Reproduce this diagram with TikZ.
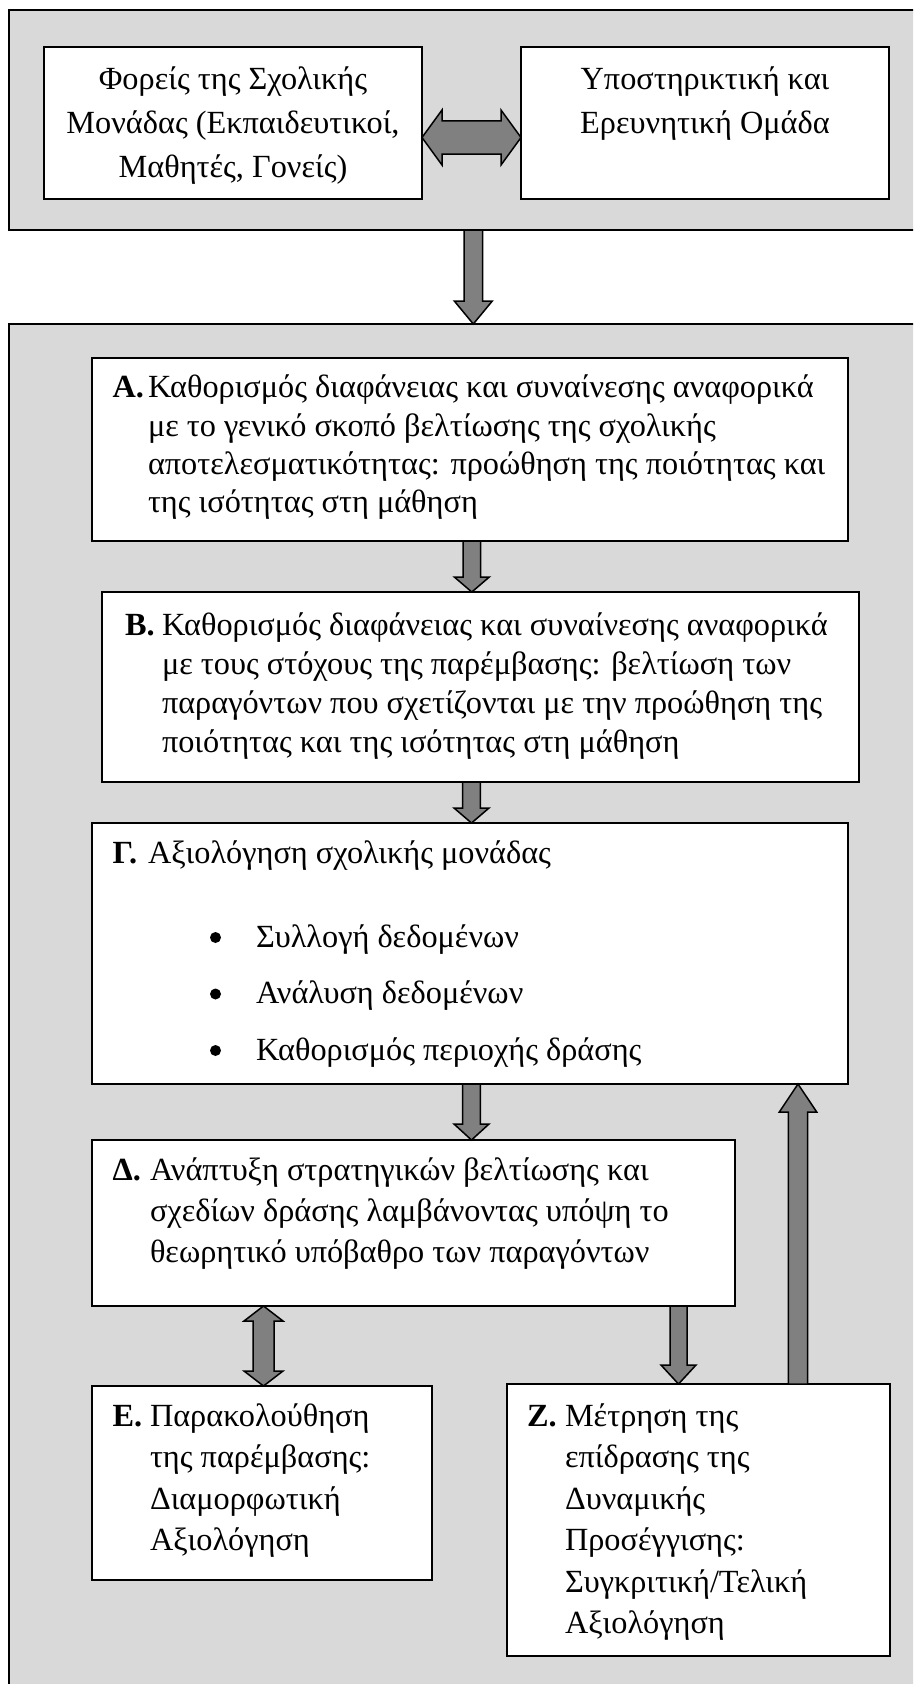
\documentclass[tikz,border=0pt]{standalone}
\usepackage{fontspec}
\setmainfont{Liberation Serif}
\usetikzlibrary{calc}
\definecolor{panel}{HTML}{D9D9D9}
\definecolor{arrowgray}{HTML}{808080}
\tikzset{
  panelbox/.style={draw=black, fill=panel, line width=2pt, rectangle, outer sep=0pt, inner sep=0pt, anchor=north west},
  whitebox/.style={draw=black, fill=white, line width=2pt, rectangle, outer sep=0pt, inner sep=0pt, anchor=north west},
  txt/.style={inner sep=0pt, outer sep=0pt, font=\fontsize{32.3}{38}\selectfont},
  lbl/.style={inner sep=0pt, outer sep=0pt, font=\fontsize{32.3}{38}\selectfont\bfseries},
  barrow/.style={draw=black, fill=arrowgray, line width=1.5pt, line join=miter},
}
% down/up single block arrow: #1 start, #2 tip, #3 shaft half width, #4 head half width, #5 head length
\newcommand\blockdown[5]{\draw[barrow] let \p1=#1, \p2=#2 in
  (\x1-#3,\y1) -- (\x1+#3,\y1) -- (\x1+#3,\y2+#5) -- (\x1+#4,\y2+#5) -- (\x1,\y2)
  -- (\x1-#4,\y2+#5) -- (\x1-#3,\y2+#5) -- cycle;}
\newcommand\blockup[5]{\draw[barrow] let \p1=#1, \p2=#2 in
  (\x1-#3,\y1) -- (\x1+#3,\y1) -- (\x1+#3,\y2-#5) -- (\x1+#4,\y2-#5) -- (\x1,\y2)
  -- (\x1-#4,\y2-#5) -- (\x1-#3,\y2-#5) -- cycle;}
% vertical double arrow: #1 top tip, #2 bottom tip
\newcommand\blockvboth[5]{\draw[barrow] let \p1=#1, \p2=#2 in
  (\x1,\y1) -- (\x1+#4,\y1-#5) -- (\x1+#3,\y1-#5) -- (\x1+#3,\y2+#5) -- (\x1+#4,\y2+#5)
  -- (\x1,\y2) -- (\x1-#4,\y2+#5) -- (\x1-#3,\y2+#5) -- (\x1-#3,\y1-#5) -- (\x1-#4,\y1-#5) -- cycle;}
% horizontal double arrow: #1 left tip, #2 right tip
\newcommand\blockhboth[5]{\draw[barrow] let \p1=#1, \p2=#2 in
  (\x1,\y1) -- (\x1+#5,\y1+#4) -- (\x1+#5,\y1+#3) -- (\x2-#5,\y1+#3) -- (\x2-#5,\y1+#4)
  -- (\x2,\y1) -- (\x2-#5,\y1-#4) -- (\x2-#5,\y1-#3) -- (\x1+#5,\y1-#3) -- (\x1+#5,\y1-#4) -- cycle;}

\begin{document}
\begin{tikzpicture}[x=1pt,y=-1pt]
\fill[white] (0,0) rectangle (913,1684);
\useasboundingbox (0,0) rectangle (913,1684);
\clip (0,0) rectangle (913,1684);

% outer panels
\node[panelbox, minimum width=916pt, minimum height=220pt] (top) at (9,10) {};
\node[panelbox, minimum width=916pt, minimum height=1380pt] (bot) at (9,324) {};

% top boxes
\node[whitebox, minimum width=378pt, minimum height=152pt] (L) at (44,47) {};
\node[whitebox, minimum width=368pt, minimum height=152pt] (R) at (521,47) {};
\node[txt, anchor=base] (L1) at (233,89) {Φορείς της Σχολικής};
\node[txt, anchor=base] (L2) at (233,133) {Μονάδας (Εκπαιδευτικοί,};
\node[txt, anchor=base] (L3) at (233,177) {Μαθητές, Γονείς)};
\node[txt, anchor=base] (R1) at (705,89) {Υποστηρικτική και};
\node[txt, anchor=base] (R2) at (705,133) {Ερευνητική Ομάδα};

% box A
\node[whitebox, minimum width=756pt, minimum height=183pt] (A) at (92,358) {};
\node[lbl, anchor=base west] (Al) at (112.5,397) {Α.};
\node[txt, anchor=base west] (A1) at (148,397) {Καθορισμός διαφάνειας και συναίνεσης αναφορικά};
\node[txt, anchor=base west] (A2) at (148,436) {με το γενικό σκοπό βελτίωσης της σχολικής};
\node[txt, anchor=base west] (A3) at (148,474) {αποτελεσματικότητας: προώθηση της ποιότητας και};
\node[txt, anchor=base west] (A4) at (148,512) {της ισότητας στη μάθηση};

% box B
\node[whitebox, minimum width=757pt, minimum height=190pt] (B) at (102,592) {};
\node[lbl, anchor=base west] (Bl) at (125,635) {Β.};
\node[txt, anchor=base west] (B1) at (162,635) {Καθορισμός διαφάνειας και συναίνεσης αναφορικά};
\node[txt, anchor=base west] (B2) at (162,674) {με τους στόχους της παρέμβασης: βελτίωση των};
\node[txt, anchor=base west] (B3) at (162,713) {παραγόντων που σχετίζονται με την προώθηση της};
\node[txt, anchor=base west] (B4) at (162,752) {ποιότητας και της ισότητας στη μάθηση};

% box G
\node[whitebox, minimum width=756pt, minimum height=261pt] (G) at (92,823) {};
\node[lbl, anchor=base west] (Gl) at (112.5,863) {Γ.};
\node[txt, anchor=base west] (G1) at (148,863) {Αξιολόγηση σχολικής μονάδας};
\fill (215.5,937.5) circle (5.5pt);
\fill (215.5,994) circle (5.5pt);
\fill (215.5,1050.5) circle (5.5pt);
\node[txt, anchor=base west] (G2) at (256,947) {Συλλογή δεδομένων};
\node[txt, anchor=base west] (G3) at (256,1003.5) {Ανάλυση δεδομένων};
\node[txt, anchor=base west] (G4) at (256,1060) {Καθορισμός περιοχής δράσης};

% box D
\node[whitebox, minimum width=643pt, minimum height=166pt] (D) at (92,1140) {};
\node[lbl, anchor=base west] (Dl) at (112.5,1180) {Δ.};
\node[txt, anchor=base west] (D1) at (150,1180) {Ανάπτυξη στρατηγικών βελτίωσης και};
\node[txt, anchor=base west] (D2) at (150,1221) {σχεδίων δράσης λαμβάνοντας υπόψη το};
\node[txt, anchor=base west] (D3) at (150,1262) {θεωρητικό υπόβαθρο των παραγόντων};

% box E
\node[whitebox, minimum width=340pt, minimum height=194pt] (E) at (92,1386) {};
\node[lbl, anchor=base west] (El) at (112.5,1426) {Ε.};
\node[txt, anchor=base west] (E1) at (150,1426) {Παρακολούθηση};
\node[txt, anchor=base west] (E2) at (150,1467.5) {της παρέμβασης:};
\node[txt, anchor=base west] (E3) at (150,1509) {Διαμορφωτική};
\node[txt, anchor=base west] (E4) at (150,1550) {Αξιολόγηση};

% box Z
\node[whitebox, minimum width=383pt, minimum height=272pt] (Z) at (507,1384) {};
\node[lbl, anchor=base west] (Zl) at (527,1426) {Ζ.};
\node[txt, anchor=base west] (Z1) at (565,1426) {Μέτρηση της};
\node[txt, anchor=base west] (Z2) at (565,1467.5) {επίδρασης της};
\node[txt, anchor=base west] (Z3) at (565,1509) {Δυναμικής};
\node[txt, anchor=base west] (Z4) at (565,1550) {Προσέγγισης:};
\node[txt, anchor=base west] (Z5) at (565,1592) {Συγκριτική/Τελική};
\node[txt, anchor=base west] (Z6) at (565,1633) {Αξιολόγηση};

% block arrows
\blockhboth{(L.east |- 0,137.5)}{(R.west |- 0,137.5)}{16.7pt}{27.5pt}{20pt}
\blockdown{(473.3,0 |- top.south)}{(473.3,0 |- bot.north)}{9.3pt}{19pt}{23pt}
\blockdown{(471.8,0 |- A.south)}{(471.8,0 |- B.north)}{8.8pt}{17.5pt}{15pt}
\blockdown{(471.5,0 |- B.south)}{(471.5,0 |- G.north)}{8.8pt}{17.5pt}{15pt}
\blockdown{(471.5,0 |- G.south)}{(471.5,0 |- D.north)}{8.8pt}{17.5pt}{16pt}
\blockdown{(678.5,0 |- D.south)}{(678.5,0 |- Z.north)}{8.5pt}{17.5pt}{19pt}
\blockup{(798,0 |- Z.north)}{(798,0 |- G.south)}{9.7pt}{18.7pt}{28pt}
\blockvboth{(263.5,0 |- D.south)}{(263.5,0 |- E.north)}{10.5pt}{19.5pt}{15pt}
\end{tikzpicture}
\end{document}
